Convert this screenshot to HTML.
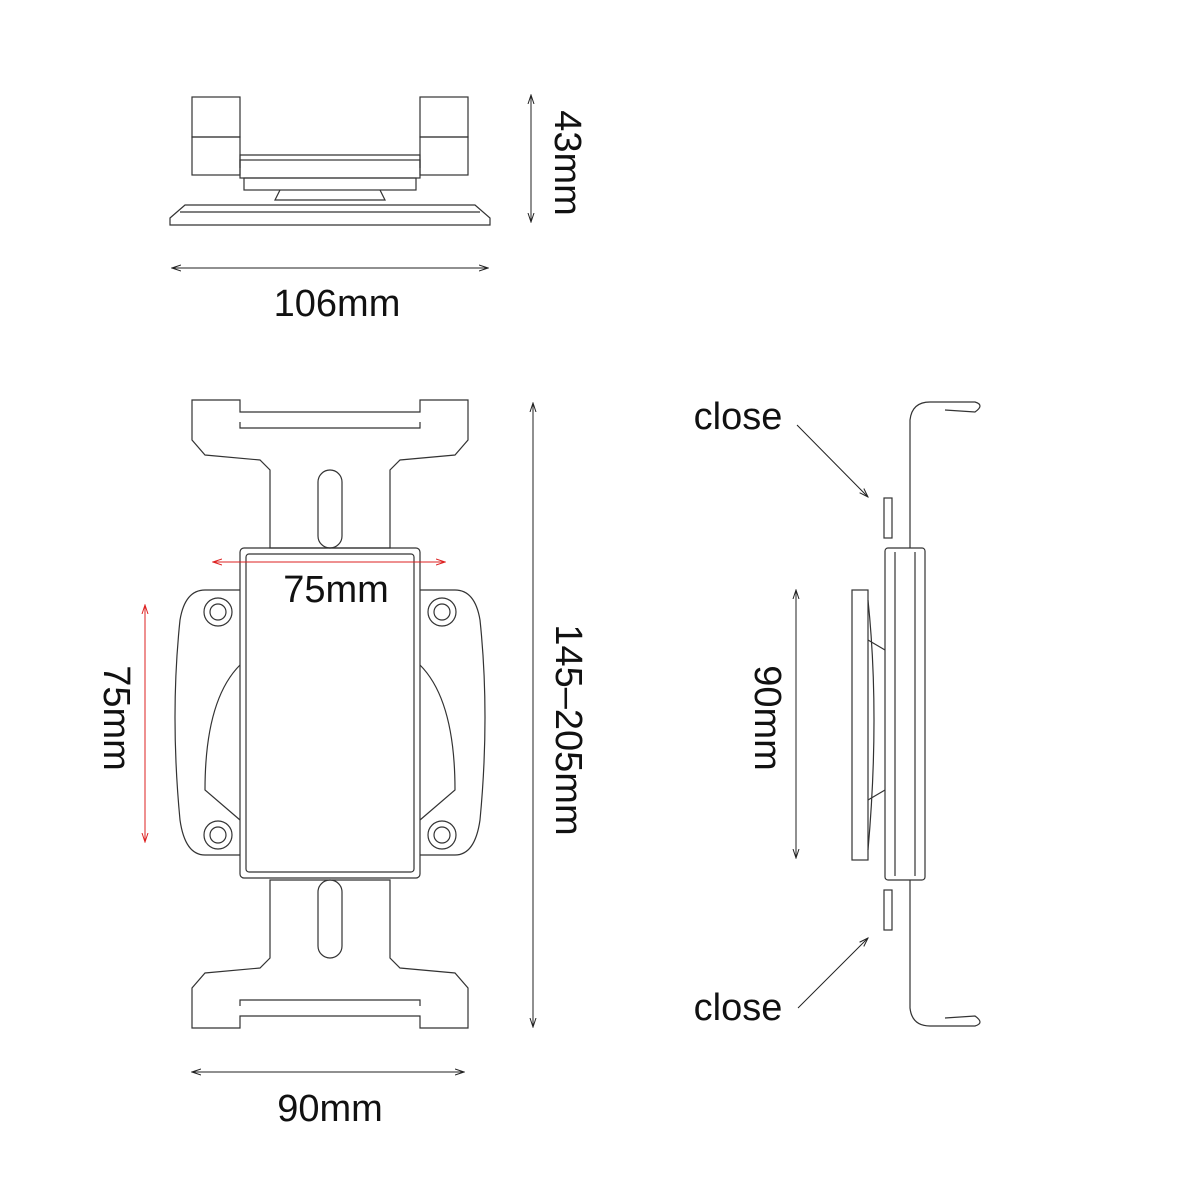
<!DOCTYPE html>
<html><head><meta charset="utf-8"><style>
html,body{margin:0;padding:0;background:#fff}
svg{display:block}
text{font-family:"Liberation Sans",sans-serif;fill:#111}
</style></head><body>
<svg width="1200" height="1200" viewBox="0 0 1200 1200" xmlns="http://www.w3.org/2000/svg">
<defs>
<marker id="a" markerWidth="10" markerHeight="8" refX="9" refY="4" orient="auto-start-reverse" markerUnits="userSpaceOnUse"><path d="M0,1 L9,4 L0,7" fill="none" stroke="#222" stroke-width="1"/></marker>
<marker id="r" markerWidth="10" markerHeight="8" refX="9" refY="4" orient="auto-start-reverse" markerUnits="userSpaceOnUse"><path d="M0,1 L9,4 L0,7" fill="none" stroke="#d22" stroke-width="1"/></marker>
</defs>
<g fill="none" stroke="#333" stroke-width="1.2">
<rect x="192" y="97" width="48" height="40"/><rect x="192" y="137" width="48" height="38"/>
<rect x="420" y="97" width="48" height="40"/><rect x="420" y="137" width="48" height="38"/>
<path d="M240,168 L240,155 L420,155 L420,168"/>
<rect x="240" y="160" width="180" height="18"/>
<rect x="244" y="178" width="172" height="12"/>
<path d="M280,190 L275,200 L385,200 L380,190"/>
<path d="M170,218 L185,205 L475,205 L490,218 L490,225 L170,225 Z"/>
<line x1="180" y1="212" x2="480" y2="212"/>
<path d="M192,400 L240,400 L240,412 L420,412 L420,400 L468,400 L468,440 L455,455 L400,460 L390,470 L390,548 L270,548 L270,470 L260,460 L205,455 L192,440 Z"/>
<path d="M240,422 L240,428 L420,428 L420,422"/>
<path d="M192,1028 L240,1028 L240,1016 L420,1016 L420,1028 L468,1028 L468,988 L455,973 L400,968 L390,958 L390,880 L270,880 L270,958 L260,968 L205,973 L192,988 Z"/>
<path d="M240,1006 L240,1000 L420,1000 L420,1006"/>
<rect x="318" y="470" width="24" height="78" rx="12"/>
<rect x="318" y="880" width="24" height="78" rx="12"/>
<rect x="240" y="548" width="180" height="330" rx="4"/>
<rect x="246" y="554" width="168" height="318" rx="3"/>
<path d="M240,590 L205,590 Q185,590 180,620 Q170,715 180,820 Q185,855 205,855 L240,855"/>
<path d="M420,590 L455,590 Q475,590 480,620 Q490,715 480,820 Q475,855 455,855 L420,855"/>
<path d="M240,665 Q205,700 205,790 L240,820"/>
<path d="M420,665 Q455,700 455,790 L420,820"/>
<circle cx="218" cy="612" r="14"/><circle cx="218" cy="612" r="8"/>
<circle cx="442" cy="612" r="14"/><circle cx="442" cy="612" r="8"/>
<circle cx="218" cy="835" r="14"/><circle cx="218" cy="835" r="8"/>
<circle cx="442" cy="835" r="14"/><circle cx="442" cy="835" r="8"/>
<path d="M910,548 L910,420 Q912,402 930,402 L975,402 Q985,405 975,412 L945,410"/>
<path d="M910,880 L910,1008 Q912,1026 930,1026 L975,1026 Q985,1023 975,1016 L945,1018"/>
<rect x="884" y="498" width="8" height="40"/>
<rect x="884" y="890" width="8" height="40"/>
<rect x="885" y="548" width="40" height="332" rx="3"/>
<line x1="895" y1="552" x2="895" y2="876"/><line x1="915" y1="552" x2="915" y2="876"/>
<rect x="852" y="590" width="16" height="270"/>
<path d="M868,600 Q880,715 868,850 M868,640 L885,650 M868,800 L885,790"/>
</g>
<g stroke="#222" stroke-width="1">
<line x1="172" y1="268" x2="488" y2="268" marker-end="url(#a)" marker-start="url(#a)"/>
<line x1="531" y1="95" x2="531" y2="222" marker-end="url(#a)" marker-start="url(#a)"/>
<line x1="533" y1="403" x2="533" y2="1027" marker-end="url(#a)" marker-start="url(#a)"/>
<line x1="192" y1="1072" x2="464" y2="1072" marker-end="url(#a)" marker-start="url(#a)"/>
<line x1="796" y1="590" x2="796" y2="858" marker-end="url(#a)" marker-start="url(#a)"/>
<line x1="797" y1="425" x2="868" y2="497" marker-end="url(#a)"/>
<line x1="798" y1="1008" x2="868" y2="938" marker-end="url(#a)"/>
</g>
<g stroke="#d22" stroke-width="1">
<line x1="213" y1="562" x2="445" y2="562" marker-end="url(#r)" marker-start="url(#r)"/>
<line x1="145" y1="605" x2="145" y2="842" marker-end="url(#r)" marker-start="url(#r)"/>
</g>
<g font-size="38">
<text x="337" y="316" text-anchor="middle">106mm</text>
<text x="336" y="602" text-anchor="middle">75mm</text>
<text x="330" y="1121" text-anchor="middle">90mm</text>
<text x="738" y="429" text-anchor="middle">close</text>
<text x="738" y="1020" text-anchor="middle">close</text>
<text transform="translate(555,163) rotate(90)" text-anchor="middle">43mm</text>
<text transform="translate(556,730) rotate(90)" text-anchor="middle">145–205mm</text>
<text transform="translate(104,718) rotate(90)" text-anchor="middle">75mm</text>
<text transform="translate(755,718) rotate(90)" text-anchor="middle">90mm</text>
</g>
</svg>
</body></html>
